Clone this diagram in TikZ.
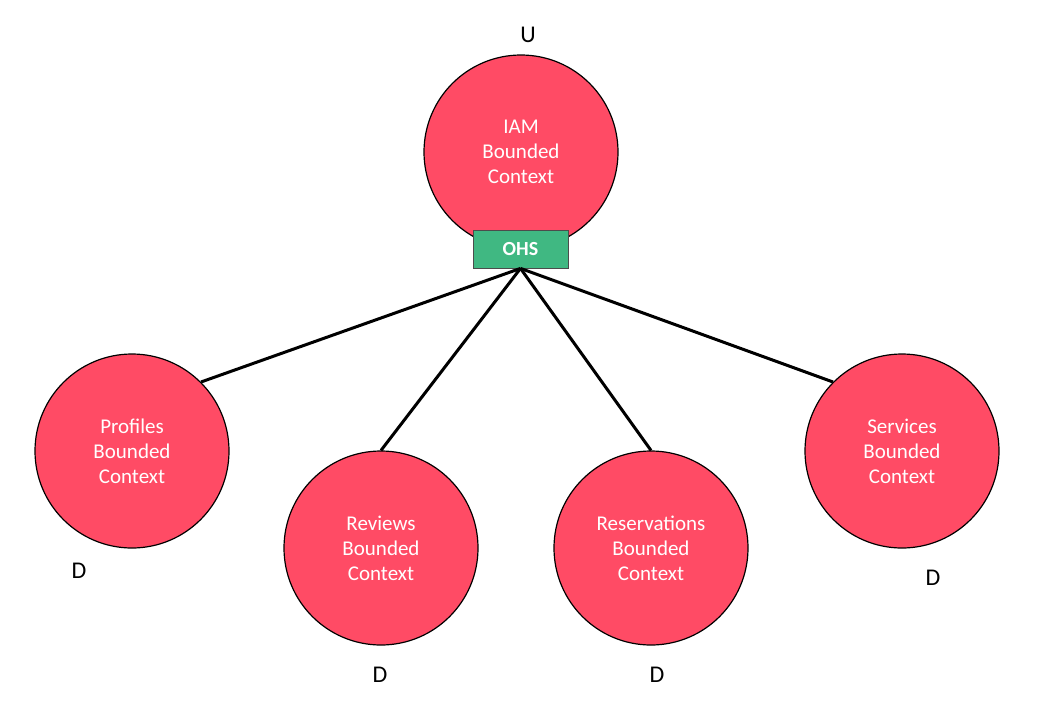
\documentclass[tikz,border=0pt]{standalone}
\usepackage{fontspec}
\setmainfont{Carlito}
\definecolor{bcred}{RGB}{255,75,101}
\definecolor{ohsgreen}{RGB}{64,184,130}
\begin{document}
\begin{tikzpicture}[x=1pt,y=-1pt,
  ctx/.style={circle,draw=black,line width=1.2pt,fill=bcred,minimum size=194pt,inner sep=0pt,
     text=white,font=\fontsize{21}{25}\selectfont,align=center},
  ohs/.style={draw=black!70,line width=0.8pt,fill=ohsgreen,minimum width=95pt,minimum height=38pt,
     inner sep=0pt,text=white,font=\fontsize{20}{23}\selectfont\bfseries},
  lab/.style={font=\fontsize{24}{28}\selectfont,inner sep=0pt},
  link/.style={line width=3pt}]
\useasboundingbox (0,0) rectangle (1053,702);
\node[ctx] (iam) at (521,152) {IAM\\Bounded\\Context};
\node[ohs] (ohs) at (520.5,249) {OHS};
\node[ctx] (prof) at (132,451) {Profiles\\Bounded\\Context};
\node[ctx] (rev) at (381,548) {Reviews\\Bounded\\Context};
\node[ctx] (res) at (651,548) {Reservations\\Bounded\\Context};
\node[ctx] (serv) at (902,451) {Services\\Bounded\\Context};
\draw[link] (ohs.south) -- (prof.north east);
\draw[link] (ohs.south) -- (rev.north);
\draw[link] (ohs.south) -- (res.north);
\draw[link] (ohs.south) -- (serv.north west);
\node[lab] (u) at (528,35) {U};
\node[lab] (d1) at (79,571) {D};
\node[lab] (d2) at (380,675) {D};
\node[lab] (d3) at (657,675) {D};
\node[lab] (d4) at (933,578) {D};
\end{tikzpicture}
\end{document}
